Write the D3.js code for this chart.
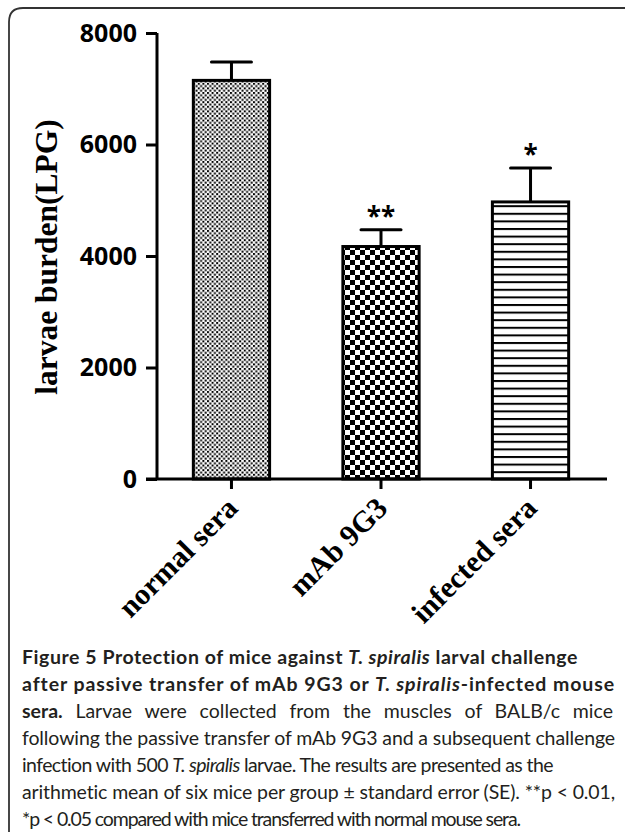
<!DOCTYPE html>
<html>
<head>
  <meta charset="utf-8">
  <script src="https://d3js.org/d3.v7.min.js"></script>
  <style>
    body { margin: 0; background: #fff; }
  </style>
</head>
<body>
<div id="svgcontainer"></div>
<script>

  // data
  var groups = ["normal sera", "mAb 9G3", "infected sera"];
  var means = [7150, 4170, 4970];
  var errors = [330, 300, 610];
  var stars = ["", "**", "*"];
  var fills = ["dots", "checker", "stripes"];
  var yTicks = [0, 2000, 4000, 6000, 8000];

  // caption lines: [text, bold, italic]
  var caption = [
    [["Figure 5 Protection of mice against ", 1, 0], ["T. spiralis", 1, 1], [" larval challenge", 1, 0]],
    [["after passive transfer of mAb 9G3 or ", 1, 0], ["T. spiralis", 1, 1], ["-infected mouse", 1, 0]],
    [["sera.", 1, 0], [" Larvae were collected from the muscles of BALB/c mice", 0, 0]],
    [["following the passive transfer of mAb 9G3 and a subsequent challenge", 0, 0]],
    [["infection with 500 ", 0, 0], ["T. spiralis", 0, 1], [" larvae. The results are presented as the", 0, 0]],
    [["arithmetic mean of six mice per group \u00b1 standard error (SE). **p < 0.01,", 0, 0]],
    [["*p < 0.05 compared with mice transferred with normal mouse sera.", 0, 0]]
  ];
  var captionEnds = [578, 615, 613, 615, 553, 615, 520];

  var width = 625, height = 832;

  var svg = d3.select("#svgcontainer").append("svg")
    .attr("width", width).attr("height", height);

  // fill patterns
  var defs = svg.append("defs");
  var p1 = defs.append("pattern").attr("id", "dots").attr("patternUnits", "userSpaceOnUse")
    .attr("width", 4.6).attr("height", 4.6);
  p1.append("rect").attr("width", 4.6).attr("height", 4.6).attr("fill", "#fff");
  p1.append("rect").attr("width", 2).attr("height", 2).attr("fill", "#000");
  p1.append("rect").attr("x", 2.3).attr("y", 2.3).attr("width", 2).attr("height", 2).attr("fill", "#000");

  var p2 = defs.append("pattern").attr("id", "checker").attr("patternUnits", "userSpaceOnUse")
    .attr("width", 10).attr("height", 10);
  p2.append("rect").attr("width", 10).attr("height", 10).attr("fill", "#fff");
  p2.append("rect").attr("width", 5).attr("height", 5).attr("fill", "#000");
  p2.append("rect").attr("x", 5).attr("y", 5).attr("width", 5).attr("height", 5).attr("fill", "#000");

  var p3 = defs.append("pattern").attr("id", "stripes").attr("patternUnits", "userSpaceOnUse")
    .attr("width", 10).attr("height", 7.6);
  p3.append("rect").attr("width", 10).attr("height", 7.6).attr("fill", "#fff");
  p3.append("rect").attr("y", 0).attr("width", 10).attr("height", 2).attr("fill", "#000");

  // frame round the figure
  svg.append("path")
    .attr("d", "M9,832 L9,22 Q9,8 23,8 L625,8")
    .attr("fill", "none").attr("stroke", "#333").attr("stroke-width", 1.8);

  var y = d3.scaleLinear().domain([0, 8000]).range([479, 33]);
  var x = d3.scaleBand().domain(groups).range([157, 605])
    .paddingInner(0.49).paddingOuter(0.243);

  // y axis
  var yAxis = svg.append("g").attr("transform", "translate(157,0)")
    .call(d3.axisLeft(y).tickValues(yTicks).tickSize(11).tickPadding(9).tickFormat(d3.format("d")));
  yAxis.select(".domain").attr("stroke-width", 3).attr("d", "M0," + y(8000) + "V" + y(0));
  yAxis.selectAll(".tick line").attr("stroke-width", 3);
  yAxis.selectAll(".tick text")
    .attr("font-family", "Open Sans").attr("font-weight", "bold").attr("font-size", 25).attr("fill", "#000");

  // bars
  svg.selectAll(".bar").data(groups).enter().append("rect")
    .attr("class", "bar")
    .attr("x", function(d) { return x(d); })
    .attr("y", function(d, i) { return y(means[i]); })
    .attr("width", x.bandwidth())
    .attr("height", function(d, i) { return y(0) - y(means[i]); })
    .attr("fill", function(d, i) { return "url(#" + fills[i] + ")"; })
    .attr("stroke", "#000").attr("stroke-width", 3);

  // error bars
  var eb = svg.selectAll(".err").data(groups).enter().append("g").attr("class", "err");
  eb.append("line")
    .attr("x1", function(d) { return x(d) + x.bandwidth() / 2; })
    .attr("x2", function(d) { return x(d) + x.bandwidth() / 2; })
    .attr("y1", function(d, i) { return y(means[i]); })
    .attr("y2", function(d, i) { return y(means[i] + errors[i]); })
    .attr("stroke", "#000").attr("stroke-width", 3);
  eb.append("line")
    .attr("x1", function(d) { return x(d) + x.bandwidth() / 2 - 20; })
    .attr("x2", function(d) { return x(d) + x.bandwidth() / 2 + 20; })
    .attr("y1", function(d, i) { return y(means[i] + errors[i]); })
    .attr("y2", function(d, i) { return y(means[i] + errors[i]); })
    .attr("stroke", "#000").attr("stroke-width", 3).attr("stroke-linecap", "round");

  // significance stars
  svg.selectAll(".star").data(groups).enter().append("text")
    .attr("x", function(d) { return x(d) + x.bandwidth() / 2; })
    .attr("y", function(d, i) { return y(means[i] + errors[i]) - 4; })
    .attr("text-anchor", "middle")
    .attr("font-family", "Open Sans").attr("font-weight", "bold").attr("font-size", 26)
    .text(function(d, i) { return stars[i]; });

  // x axis
  var xAxis = svg.append("g").attr("transform", "translate(0," + y(0) + ")")
    .call(d3.axisBottom(x).tickSize(10).tickFormat(""));
  xAxis.select(".domain").attr("stroke-width", 3).attr("d", "M146,0H607");
  xAxis.selectAll(".tick line").attr("stroke-width", 3);

  svg.selectAll(".xlab").data(groups).enter().append("text")
    .attr("transform", function(d) {
      return "translate(" + (x(d) + x.bandwidth() / 2 + 8) + ",510) rotate(-45)";
    })
    .attr("text-anchor", "end")
    .attr("font-family", "Liberation Serif").attr("font-weight", "bold").attr("font-size", 30)
    .text(function(d) { return d; });

  // y title
  svg.append("text")
    .attr("transform", "translate(57,257) rotate(-90)")
    .attr("text-anchor", "middle")
    .attr("font-family", "Liberation Serif").attr("font-weight", "bold").attr("font-size", 31.5)
    .text("larvae burden(LPG)");

  // caption, squeezed/justified to the reference line ends
  caption.forEach(function(line, i) {
    var t = svg.append("text")
      .attr("x", 22).attr("y", 664 + i * 27)
      .attr("font-family", "Lato").attr("font-size", 19.5).attr("fill", "#231f20")
      .style("font-variant-ligatures", "none");
    line.forEach(function(s) {
      t.append("tspan")
        .attr("font-weight", s[1] ? "bold" : "normal")
        .attr("font-style", s[2] ? "italic" : "normal")
        .text(s[0]);
    });
    var full = line.map(function(s) { return s[0]; }).join("");
    var gap = (captionEnds[i] - 22) - t.node().getComputedTextLength();
    if (i == 2) {
      t.attr("word-spacing", gap / (full.split(" ").length - 1));
    } else {
      t.attr("letter-spacing", gap / full.length);
    }
  });

</script>
</body>
</html>
